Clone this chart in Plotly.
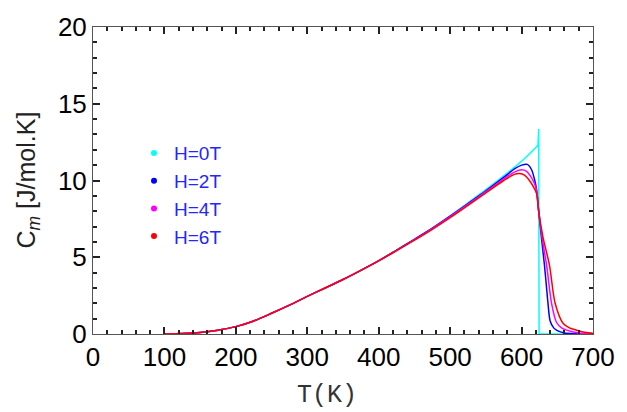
import plotly.graph_objects as go

# ---- data ----
T_h0 = [100,125,150,175,200,225,250,275,300,325,350,375,400,425,450,475,500,525,550,575,600,623,624,624.5,700]
C_h0 = [0.0,0.03,0.1,0.25,0.48,0.85,1.35,1.88,2.45,3.0,3.55,4.15,4.78,5.47,6.17,6.9,7.7,8.55,9.4,10.3,11.25,12.3,13.35,0.0,0.0]

T_h2 = [100,125,150,175,200,225,250,275,300,325,350,375,400,425,450,475,500,525,550,575,590,600,608,614,618,621,624,628,632,635,637,640,645,650,660,675,700]
C_h2 = [0.0,0.03,0.1,0.25,0.48,0.85,1.35,1.88,2.45,3.0,3.55,4.15,4.78,5.47,6.17,6.89,7.68,8.5,9.33,10.2,10.75,11.0,11.05,10.7,10.1,9.4,8.0,6.2,4.5,3.0,2.0,0.85,0.4,0.22,0.07,0.02,0.0]

T_h4 = [100,125,150,175,200,225,250,275,300,325,350,375,400,425,450,475,500,525,550,575,590,600,607,613,618,621,624,629,635,642,649,656,663,680,700]
C_h4 = [0.0,0.03,0.1,0.25,0.48,0.85,1.35,1.88,2.45,3.0,3.55,4.15,4.77,5.45,6.14,6.86,7.64,8.45,9.27,10.1,10.55,10.7,10.6,10.25,9.8,9.35,8.0,6.2,4.5,2.0,0.75,0.4,0.25,0.07,0.02]

T_h6 = [100,125,150,175,200,225,250,275,300,325,350,375,400,425,450,475,500,525,550,575,590,597,604,611,617,621,624,630,639,647,658,667,677,690,700]
C_h6 = [0.0,0.03,0.1,0.25,0.48,0.85,1.35,1.88,2.45,3.0,3.55,4.14,4.76,5.43,6.11,6.82,7.58,8.38,9.2,10.0,10.4,10.45,10.35,10.0,9.55,9.15,7.95,6.3,4.5,2.0,0.7,0.4,0.25,0.1,0.05]

series_names = ["H=0T", "H=2T", "H=4T", "H=6T"]
series_T = [T_h0, T_h2, T_h4, T_h6]
series_C = [C_h0, C_h2, C_h4, C_h6]
colors = ["#00FFFF", "#0000FF", "#FF00FF", "#FF0000"]

x_title = "T(K)"
y_title = "C<sub><i>m</i></sub> [J/mol.K]"

fig = go.Figure()
k = T_h0.index(623)
fig.add_trace(go.Scatter(x=T_h0[:k + 1], y=C_h0[:k + 1], mode="lines", name=series_names[0],
                         line=dict(color=colors[0], width=1.5, shape="spline", smoothing=0.8),
                         showlegend=False))
fig.add_trace(go.Scatter(x=T_h0[k:], y=C_h0[k:], mode="lines", name=series_names[0],
                         line=dict(color=colors[0], width=1.5), showlegend=False))
for name, T, C, col in zip(series_names[1:], series_T[1:], series_C[1:], colors[1:]):
    fig.add_trace(go.Scatter(x=T, y=C, mode="lines", name=name,
                             line=dict(color=col, width=1.5, shape="spline", smoothing=0.8),
                             showlegend=False))
# legend proxies (dot symbols)
for name, col in zip(series_names, colors):
    fig.add_trace(go.Scatter(x=[None], y=[None], mode="markers", name=name,
                             marker=dict(color=col, size=6), showlegend=True))

fig.update_layout(
    width=627, height=412,
    margin=dict(l=93, r=27, t=22, b=78),
    paper_bgcolor="white", plot_bgcolor="white",
    font=dict(family="Liberation Sans, Arial", size=26, color="black"),
    legend=dict(x=0.082, y=0.651, xanchor="left", yanchor="top",
                bgcolor="rgba(0,0,0,0)", borderwidth=0,
                font=dict(family="Liberation Sans, Arial", size=19, color="#2525FF"),
                tracegroupgap=0),
    showlegend=True,
)
fig.update_xaxes(range=[0, 700], ticks="inside", ticklen=7, tickwidth=2, tickcolor="#222222",
                 showline=True, linecolor="#555555", mirror="ticks",
                 minor=dict(ticks="inside", dtick=20, ticklen=4, tickcolor="#222222"))
fig.update_yaxes(range=[0, 20], ticks="inside", ticklen=7, tickwidth=2, tickcolor="#222222",
                 showline=True, linecolor="#555555", mirror="ticks",
                 minor=dict(ticks="inside", dtick=1, ticklen=4, tickcolor="#222222"))
fig.update_xaxes(gridcolor="rgba(0,0,0,0)", zerolinecolor="rgba(0,0,0,0)", dtick=100)
fig.update_yaxes(gridcolor="rgba(0,0,0,0)", zerolinecolor="rgba(0,0,0,0)", dtick=5)

# axis titles as annotations
fig.add_annotation(text=x_title, xref="paper", yref="paper", x=0.467, y=-0.2,
                   xanchor="center", yanchor="middle", showarrow=False,
                   font=dict(family="Liberation Mono, Courier New", size=25, color="#333333"))
fig.add_annotation(text=y_title, xref="paper", yref="paper", x=-0.132, y=0.5,
                   xanchor="center", yanchor="middle", showarrow=False, textangle=-90,
                   font=dict(family="Liberation Sans, Arial", size=25, color="#222222"))

fig.write_html("out.html")
